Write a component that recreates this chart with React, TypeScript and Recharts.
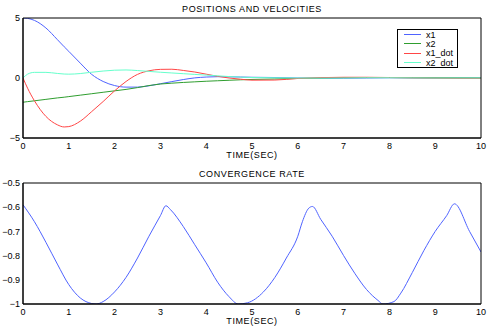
import { Legend, Line, LineChart, XAxis, YAxis } from "recharts";

// time samples for the positions / velocities plot
const TIME = [
  0, 0.1, 0.25, 0.5, 0.75, 0.9, 1, 1.25, 1.5, 1.75, 2, 2.25, 2.5, 2.75, 3, 3.25, 3.5, 3.75, 4,
  4.25, 4.5, 4.75, 5, 5.5, 6, 6.5, 7, 7.5, 8, 8.5, 9, 9.5, 10
];
const X1 = [
  5, 4.97, 4.8, 4.17, 3.2, 2.6, 2.22, 1.24, 0.3, -0.29, -0.63, -0.76, -0.76, -0.65, -0.48, -0.3,
  -0.13, 0.01, 0.08, 0.11, 0.1, 0.08, 0.06, 0.04, 0, -0.03, -0.02, 0, 0.02, 0.01, 0, 0, 0
];
const X2 = [
  -2.02, -1.97, -1.9, -1.78, -1.66, -1.6, -1.55, -1.43, -1.31, -1.19, -1.07, -0.95, -0.8, -0.63,
  -0.5, -0.43, -0.37, -0.32, -0.27, -0.23, -0.19, -0.15, -0.12, -0.08, -0.04, 0, 0.03, 0.04, 0.04,
  0.03, 0.02, 0.01, 0
];
const X1_DOT = [
  0, -0.85, -1.9, -3.2, -3.9, -4.08, -4.05, -3.6, -2.8, -1.96, -1.07, -0.29, 0.3, 0.6, 0.72, 0.73,
  0.63, 0.5, 0.32, 0.14, 0, -0.1, -0.18, -0.17, -0.04, 0.03, 0.06, 0.06, 0.04, 0.01, -0.01, -0.03,
  -0.03
];
const X2_DOT = [
  0, 0.32, 0.47, 0.47, 0.38, 0.33, 0.32, 0.37, 0.48, 0.58, 0.65, 0.67, 0.62, 0.55, 0.48, 0.42,
  0.36, 0.3, 0.24, 0.18, 0.12, 0.07, 0.04, 0.02, 0, -0.01, 0, 0.02, 0.02, 0.01, 0, 0, 0
];

// convergence rate
const RATE_TIME = [
  0, 0.25, 0.5, 0.75, 1, 1.25, 1.5, 1.6, 1.75, 2, 2.25, 2.5, 2.75, 3, 3.12, 3.22, 3.5, 3.75, 4,
  4.25, 4.5, 4.7, 4.9, 5.25, 5.5, 5.75, 6, 6.1, 6.24, 6.32, 6.5, 6.75, 7, 7.25, 7.5, 7.75, 7.86,
  8.1, 8.25, 8.5, 8.75, 9, 9.25, 9.42, 9.75, 10
];
const RATE = [
  -0.59, -0.66, -0.745, -0.835, -0.92, -0.975, -0.998, -1, -0.99, -0.95, -0.89, -0.81, -0.72,
  -0.635, -0.594, -0.61, -0.68, -0.755, -0.83, -0.91, -0.97, -1, -0.995, -0.95, -0.89, -0.81,
  -0.72, -0.66, -0.604, -0.597, -0.65, -0.72, -0.8, -0.875, -0.94, -0.985, -1, -0.99, -0.955,
  -0.87, -0.78, -0.7, -0.635, -0.586, -0.7, -0.785
];

const X_TICKS = [0, 1, 2, 3, 4, 5, 6, 7, 8, 9, 10];
const POS_TICKS = [-5, 0, 5];
const RATE_TICKS = [-1, -0.9, -0.8, -0.7, -0.6, -0.5];

const SERIES = [
  { key: "x1", color: "#4f63ff" },
  { key: "x2", color: "#2f9e2f" },
  { key: "x1_dot", color: "#ff4646" },
  { key: "x2_dot", color: "#66ffcc" }
];
const SERIES_ORDER = SERIES.map((s) => s.key);

const positionData = TIME.map((t, i) => ({
  t,
  x1: X1[i],
  x2: X2[i],
  x1_dot: X1_DOT[i],
  x2_dot: X2_DOT[i]
}));
const rateData = RATE_TIME.map((t, i) => ({ t, rate: RATE[i] }));

const FONT = "'Liberation Sans', Arial, sans-serif";
const tickStyle = { fill: "#000", fontSize: 9 };
const fmt = (v: number) => String(Number(v.toFixed(1))).replace("-", "\u2212");

function legendContent(props: any) {
  const items = (props.payload || [])
    .filter((e: any) => SERIES_ORDER.includes(e.value))
    .sort((a: any, b: any) => SERIES_ORDER.indexOf(a.value) - SERIES_ORDER.indexOf(b.value));
  return (
    <div
      style={{
        border: "1px solid #000",
        background: "#fff",
        width: 61,
        boxSizing: "border-box",
        fontSize: 9,
        color: "#000"
      }}
    >
      {items.map((entry: any) => (
        <div key={entry.value} style={{ display: "flex", alignItems: "center", height: 9.3 }}>
          <span style={{ width: 17, borderTop: `1px solid ${entry.color}`, marginLeft: 6, marginRight: 5 }} />
          <span>{entry.value}</span>
        </div>
      ))}
    </div>
  );
}

// matlab style box: inward ticks on all four sides, labels on bottom/left only.
// the extra axes get an invisible copy of a series so recharts lays them out.
function frameAxes(yKey: string, yDomain: number[], yTicks: number[], xHeight: number, labelOffset: number) {
  const ghost = (id: string, xId: string, yId: string) => (
    <Line
      key={id}
      xAxisId={xId}
      yAxisId={yId}
      dataKey={yKey}
      name="frame"
      stroke="none"
      dot={false}
      activeDot={false}
      legendType="none"
      isAnimationActive={false}
    />
  );
  return [
    <XAxis
      key="xb"
      dataKey="t"
      type="number"
      domain={[0, 10]}
      ticks={X_TICKS}
      allowDataOverflow
      stroke="#000"
      tickLine={false}
      tickSize={0}
      tickMargin={5}
      tick={tickStyle}
      height={xHeight}
      label={{ value: "TIME(SEC)", position: "insideBottom", offset: labelOffset, fill: "#000", fontSize: 9, letterSpacing: 0.6 }}
    />,
    <XAxis key="xbi" xAxisId="bi" dataKey="t" type="number" domain={[0, 10]} ticks={X_TICKS} mirror stroke="#000" tickSize={4} tick={false} />,
    <XAxis key="xt" xAxisId="top" orientation="top" dataKey="t" type="number" domain={[0, 10]} ticks={X_TICKS} mirror stroke="#000" tickSize={4} tick={false} />,
    <YAxis
      key="yl"
      type="number"
      domain={yDomain}
      ticks={yTicks}
      allowDataOverflow
      stroke="#000"
      width={23}
      tickLine={false}
      tickSize={0}
      tickMargin={3}
      tick={tickStyle}
      tickFormatter={fmt}
    />,
    <YAxis key="yli" yAxisId="li" type="number" domain={yDomain} ticks={yTicks} mirror stroke="#000" tickSize={4} tick={false} />,
    <YAxis key="yr" yAxisId="right" orientation="right" type="number" domain={yDomain} ticks={yTicks} mirror stroke="#000" tickSize={4} tick={false} />,
    ghost("g1", "bi", "li"),
    ghost("g2", "top", "right")
  ];
}

const titleStyle = (top: number) => ({
  position: "absolute" as const,
  left: 23,
  width: 458,
  top,
  textAlign: "center" as const,
  fontSize: 9,
  lineHeight: "9px",
  letterSpacing: 0.6
});

export default function App() {
  return (
    <div style={{ position: "absolute", left: 0, top: 0, width: 491, height: 327, background: "#fff", fontFamily: FONT }}>
      <div style={titleStyle(4.6)}>POSITIONS AND VELOCITIES</div>
      <LineChart width={491} height={163} data={positionData} margin={{ top: 18, right: 10, bottom: 0, left: 0 }}>
        {frameAxes("x1", [-5, 5], POS_TICKS, 25, 5)}
        {SERIES.map((s) => (
          <Line
            key={s.key}
            dataKey={s.key}
            name={s.key}
            stroke={s.color}
            strokeWidth={1}
            dot={false}
            type="monotone"
            isAnimationActive={false}
          />
        ))}
        <Legend
          layout="vertical"
          align="center"
          verticalAlign="middle"
          wrapperStyle={{ left: 397, top: 29, width: 61 }}
          content={legendContent}
        />
      </LineChart>
      <div style={titleStyle(170.1)}>CONVERGENCE RATE</div>
      <LineChart width={491} height={164} data={rateData} margin={{ top: 20, right: 10, bottom: 0, left: 0 }}>
        {frameAxes("rate", [-1, -0.5], RATE_TICKS, 23, 3)}
        <Line dataKey="rate" stroke="#4f63ff" strokeWidth={1} dot={false} type="monotone" isAnimationActive={false} />
      </LineChart>
    </div>
  );
}
